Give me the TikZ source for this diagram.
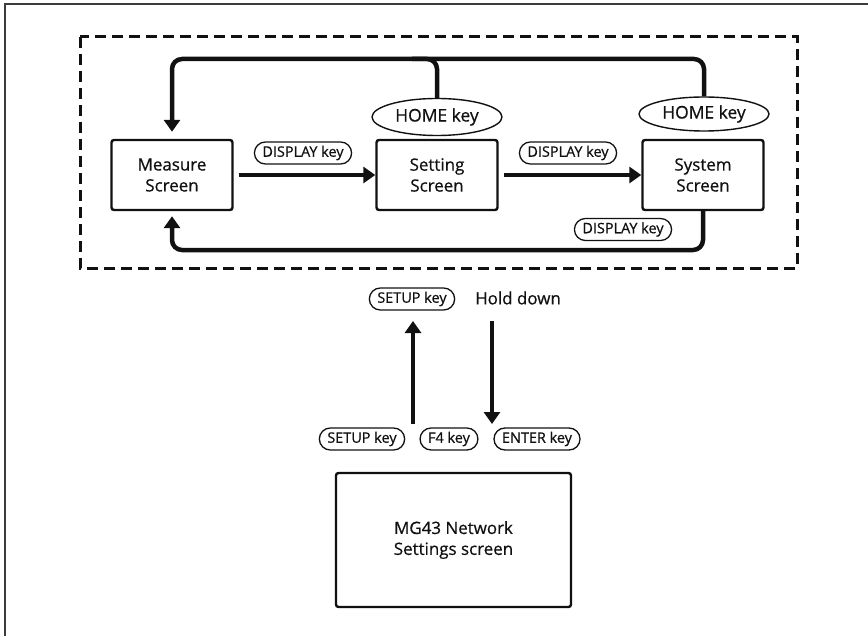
\documentclass[tikz,border=0pt]{standalone}
\usepackage{fontspec}
\setmainfont[FakeBold=0.6]{Open Sans}
\usetikzlibrary{arrows.meta,shapes.geometric,positioning}
\definecolor{ink}{HTML}{111111}
\definecolor{rim}{HTML}{3C3C3C}
\tikzset{
  >={Triangle[length=12bp,width=16bp]},
  every picture/.style={font=\fontsize{17}{21}\selectfont},
  scr/.style={draw=ink,line width=2.4bp,rounded corners=2.5bp,minimum width=121bp,minimum height=70bp,align=center,text=ink},
  keyp/.style={draw=ink,line width=1.3bp,rounded corners=11bp,minimum height=22bp,inner xsep=8bp,inner ysep=0pt,font=\fontsize{14.5}{16}\selectfont,text=ink},
  homek/.style={ellipse,draw=ink,line width=1.4bp,minimum width=130bp,minimum height=37bp,inner sep=0pt,font=\fontsize{17.5}{19}\selectfont,text=ink},
  flow/.style={->,draw=ink,line width=4.5bp,rounded corners=10bp},
  lane/.style={draw=ink,line width=4.5bp,rounded corners=10bp},
  groupbox/.style={draw=ink,line width=3bp,dash pattern=on 11bp off 6bp},
}
\begin{document}
\begin{tikzpicture}[x=1bp,y=-1bp]
  \useasboundingbox (0,0) rectangle (868,636);
  \draw[rim,line width=2bp] (5,636) -- (5,4.5) -- (868,4.5);
  \draw[groupbox] (80,37) rectangle (797,268);
  % screens
  \node[scr] (meas) at (172,175) {Measure\\Screen};
  \node[scr] (sett) at (437,175) {Setting\\Screen};
  \node[scr] (sys) at (703,175) {System\\Screen};
  \node[homek] (homeA) at (437,117) {HOME key};
  \node[homek,minimum height=34bp] (homeB) at (704,114) {HOME key};
  \node[keyp] (dispA) at (303,153) {DISPLAY key};
  \node[keyp] (dispB) at (568,153) {DISPLAY key};
  \node[keyp] (dispC) at (623,229.5) {DISPLAY key};
  \coordinate (topline) at (0,59);
  \coordinate (botline) at (0,250);
  \draw[flow] ([xshift=5bp]meas.east) -- (sett.west);
  \draw[flow] ([xshift=5bp]sett.east) -- (sys.west);
  \draw[flow] (homeB.north) -- (homeB.north |- topline) -| ([yshift=7bp]meas.north);
  \draw[lane] (homeA.north) |- ([xshift=-25bp]homeA.north |- topline);
  \draw[flow] (sys.south) -- (sys.south |- botline) -| ([yshift=-5bp]meas.south);
  % setup path
  \node[keyp] (setupA) at (412,299) {SETUP key};
  \node[anchor=west,inner sep=0pt,text=ink] (hold) at (475,298) {Hold down};
  \coordinate (upfoot) at (413,424);
  \coordinate (uptip) at (413,321);
  \coordinate (dntop) at (492,321);
  \coordinate (dntip) at (492,424);
  \draw[flow] (upfoot) -- (uptip);
  \draw[flow] (dntop) -- (dntip);
  \node[keyp] (setupB) at (362,439) {SETUP key};
  \node[keyp] (fkey) at (449,439) {F4 key};
  \node[keyp] (enter) at (537,439) {ENTER key};
  \node[scr,minimum width=235bp,minimum height=134bp] (mg) at (453.5,540) {MG43 Network\\Settings screen};
\end{tikzpicture}
\end{document}
